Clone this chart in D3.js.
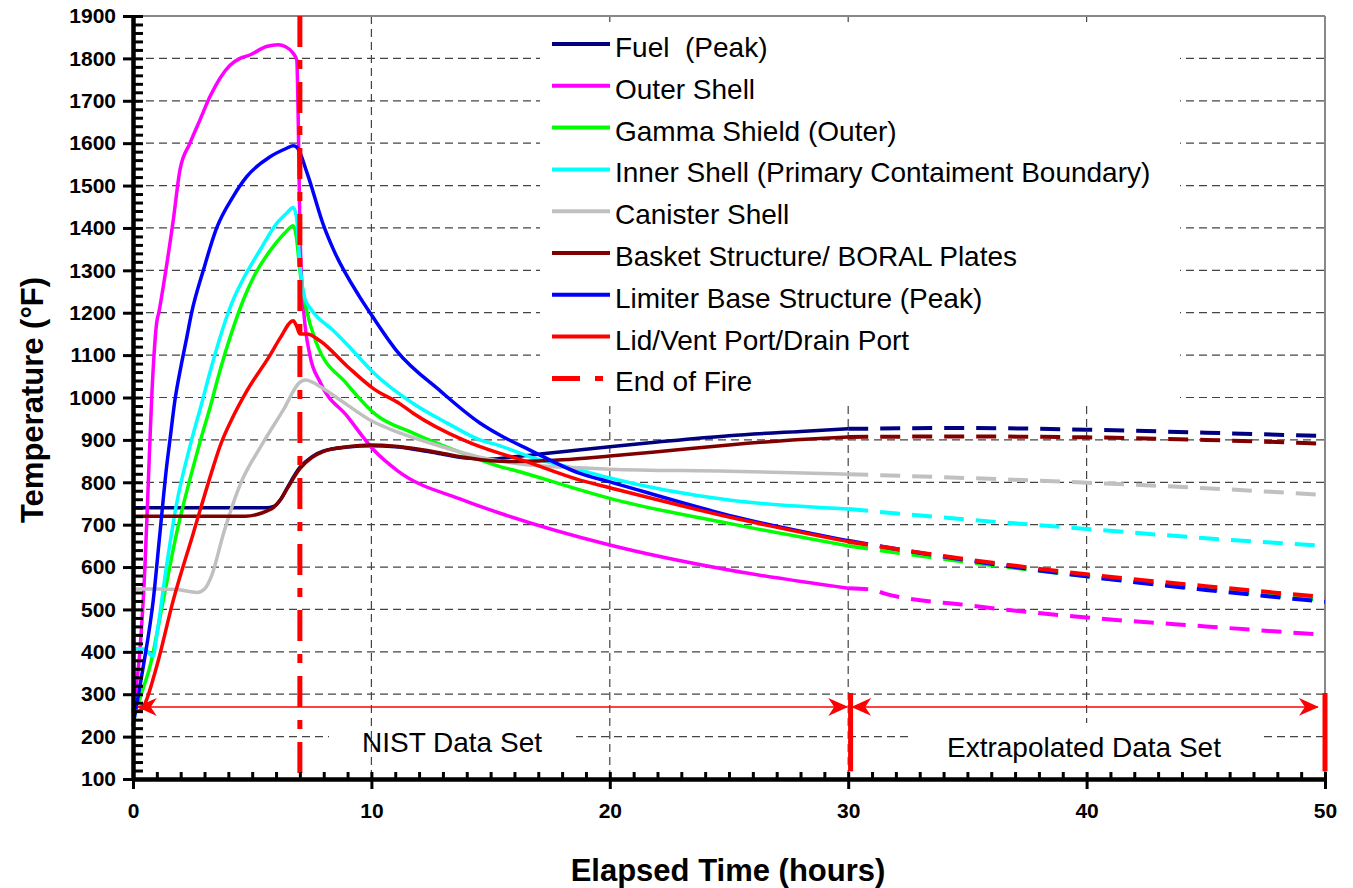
<!DOCTYPE html>
<html>
<head>
<meta charset="utf-8">
<script src="https://d3js.org/d3.v7.min.js"></script>
<style>
body { margin: 0; background: #fff; }
text { font-family: "Liberation Sans", Arial, sans-serif; }
</style>
</head>
<body>
<svg id="chart" width="1353" height="888"></svg>
<script>
// values: [hours, °F]
const fuel = [[0,740],[2,740],[4,740],[5,740],[5.6,740],[5.9,743],[6.2,760],[6.5,790],[7,835],[7.5,860],[8,874],[9,883],[10,886],[11,884],[12,876],[13,866],[14,857],[15,855],[16,860],[17,866],[18,872],[20,884],[22,895],[25,910],[28,920],[30,926],[35,928],[40,924],[45,917],[50,909]];
const outerShell = [[0,255],[0.1,300],[0.29,404],[0.5,600],[0.64,797],[0.78,994],[0.99,1175],[1.1,1205],[1.27,1262],[1.69,1419],[1.97,1537],[2.39,1600],[2.81,1655],[3.23,1710],[4.07,1784],[4.49,1800],[4.9,1808],[5.6,1828],[6.1,1832],[6.38,1828],[6.72,1812],[6.87,1796],[6.94,1624],[7.0,1400],[7.14,1220],[7.42,1100],[7.84,1037],[9,955],[10.1,876],[11.1,827],[13.85,758],[15.4,727],[20,652],[25,593],[30,550],[31,547],[31.5,538],[35,510],[40,481],[45,460],[50,440]];
const gammaShield = [[0,300],[0.1,290],[0.22,282],[0.4,310],[0.71,365],[1.27,522],[1.83,680],[2.53,837],[2.81,895],[3.3,990],[3.51,1035],[4.3,1180],[4.7,1240],[5.05,1283],[5.88,1356],[6.4,1390],[6.72,1405],[6.85,1380],[7.0,1300],[7.28,1206],[7.7,1128],[8.96,1033],[10.2,959],[11.75,916],[13.85,868],[15.4,837],[15.95,829],[18.75,782],[20,762],[25,703],[30,650],[35,612],[40,578],[45,548],[50,522]];
const innerShell = [[0,408],[0.5,406],[0.75,392],[0.85,390],[1.0,440],[1.4,600],[1.83,750],[2.39,885],[2.9,990],[3.23,1060],[3.93,1190],[4.14,1222],[4.49,1265],[5.33,1348],[6.03,1411],[6.45,1435],[6.72,1448],[6.86,1425],[7.0,1316],[7.2,1235],[7.5,1206],[8.4,1158],[9,1124],[10.1,1058],[11.75,986],[13.2,939],[14.55,900],[15.4,886],[16.65,860],[18.75,829],[20,810],[25,758],[30,737],[35,712],[40,690],[45,668],[50,650]];
const canister = [[0,548],[1,548],[1.8,547],[2.3,543],[2.7,540],[3.0,548],[3.3,580],[3.8,680],[4.5,795],[5.4,888],[6.3,970],[7.0,1036],[7.25,1041],[7.5,1037],[7.9,1024],[9,982],[10,945],[10.8,925],[12.5,892],[14.5,860],[16,845],[18.75,834],[20,831],[25,826],[30,819],[35,810],[40,799],[45,786],[50,770]];
const basket = [[0,720],[2,720],[4,720],[4.7,720],[5.2,724],[5.6,732],[5.9,741],[6.2,760],[6.5,788],[7,832],[7.5,858],[8,873],[9,884],[10,888],[11,885],[12,878],[13,868],[14,858],[15,851],[16,849],[17,850],[18,853],[20,862],[22,872],[25,888],[28,901],[30,907],[35,908],[40,906],[45,900],[50,891]];
const limiter = [[0,225],[0.2,290],[0.43,365],[0.85,522],[1.13,680],[1.41,837],[1.55,900],[1.76,994],[2.0,1070],[2.25,1140],[2.46,1200],[2.95,1300],[3.51,1400],[4.2,1474],[4.77,1521],[5.75,1568],[6.45,1588],[6.72,1594],[6.88,1590],[7.3,1530],[8.0,1405],[8.4,1350],[9.5,1238],[10,1195],[11.06,1110],[12.9,1015],[14.55,940],[15.4,911],[16.65,876],[18.75,821],[20,801],[25,722],[30,662],[35,616],[40,578],[45,546],[50,518]];
const lid = [[0,267],[0.08,262],[0.2,260],[0.43,270],[0.99,365],[1.69,522],[2.53,680],[3.37,837],[3.65,885],[4.2,955],[4.77,1015],[5.75,1100],[6.17,1140],[6.72,1181],[6.85,1170],[7.0,1150],[7.3,1150],[7.84,1134],[8.96,1075],[10.08,1021],[11.2,985],[11.75,963],[13.85,900],[15.4,868],[16,858],[18.75,805],[20,787],[25,718],[30,660],[35,618],[40,583],[45,555],[50,529]];

const seriesNames = ["Fuel  (Peak)", "Outer Shell", "Gamma Shield (Outer)", "Inner Shell (Primary Contaiment Boundary)", "Canister Shell", "Basket Structure/ BORAL Plates", "Limiter Base Structure (Peak)", "Lid/Vent Port/Drain Port"];
const seriesData = [fuel, outerShell, gammaShield, innerShell, canister, basket, limiter, lid];
const seriesColors = ["#000080", "#ff00ff", "#00ff00", "#00ffff", "#c0c0c0", "#800000", "#0000ff", "#ff0000"];

const endOfFire = 7.0;       // hours
const nistEnd = 30;          // measured data ends, extrapolation begins
const yTicks = d3.range(100, 1901, 100);
const xTicks = [0, 10, 20, 30, 40, 50];

const svg = d3.select("#chart");
const x = d3.scaleLinear().domain([0, 50]).range([133, 1325]);
const y = d3.scaleLinear().domain([100, 1900]).range([779, 16]);

// horizontal grid
svg.append("g").selectAll("line")
    .data(yTicks.filter(d => d > 100 && d < 1900))
    .join("line")
    .attr("x1", x(0)).attr("x2", x(50))
    .attr("y1", d => y(d)).attr("y2", d => y(d))
    .attr("stroke", "#444").attr("stroke-width", 1.2).attr("stroke-dasharray", "8,5");

// white box behind NIST label
svg.append("rect").attr("x", 329).attr("y", 724).attr("width", 247).attr("height", 46).attr("fill", "#fff");

// vertical grid
svg.append("g").selectAll("line")
    .data([10, 20, 30, 40])
    .join("line")
    .attr("x1", d => x(d)).attr("x2", d => x(d))
    .attr("y1", y(1900)).attr("y2", y(100))
    .attr("stroke", "#444").attr("stroke-width", 1.2).attr("stroke-dasharray", "8,5");

// white box behind extrapolated label
svg.append("rect").attr("x", 909).attr("y", 723).attr("width", 352).attr("height", 52).attr("fill", "#fff");

// top and right frame
svg.append("line").attr("x1", x(0)).attr("x2", x(50)).attr("y1", y(1900)).attr("y2", y(1900))
    .attr("stroke", "#888").attr("stroke-width", 2);
svg.append("line").attr("x1", x(50)).attr("x2", x(50)).attr("y1", y(1900)).attr("y2", y(100))
    .attr("stroke", "#888").attr("stroke-width", 2);

// legend background
svg.append("rect").attr("x", 540).attr("y", 22).attr("width", 640).attr("height", 380).attr("fill", "#fff");

// curves, solid up to 30 h, dashed after
const line = d3.line().x(d => x(d[0])).y(d => y(d[1])).curve(d3.curveMonotoneX);
const lines = svg.append("g").attr("fill", "none");
seriesData.forEach(function(data, i) {
    lines.append("path")
        .attr("d", line(data.filter(d => d[0] <= nistEnd)))
        .attr("stroke", seriesColors[i]).attr("stroke-width", 3.5)
        .attr("stroke-linejoin", "round");
    lines.append("path")
        .attr("d", line(data.filter(d => d[0] >= nistEnd)))
        .attr("stroke", seriesColors[i]).attr("stroke-width", 4)
        .attr("stroke-dasharray", "20,12");
});

// end of fire
svg.append("line")
    .attr("x1", x(endOfFire)).attr("x2", x(endOfFire))
    .attr("y1", y(1900)).attr("y2", y(100))
    .attr("stroke", "#ff0000").attr("stroke-width", 5)
    .attr("stroke-dasharray", "31,13,9,13");

// arrows
const defs = svg.append("defs");
defs.append("marker")
    .attr("id", "arr")
    .attr("viewBox", "0 -10 20 20")
    .attr("refX", 19).attr("refY", 0)
    .attr("markerWidth", 20).attr("markerHeight", 20)
    .attr("markerUnits", "userSpaceOnUse")
    .attr("orient", "auto-start-reverse")
    .append("path").attr("d", "M0,-9L20,0L0,9L6,0Z").attr("fill", "#ff0000");

const arrowT = 270;
svg.append("line")
    .attr("x1", x(0.2)).attr("x2", x(nistEnd) - 1)
    .attr("y1", y(arrowT)).attr("y2", y(arrowT))
    .attr("stroke", "#ff0000").attr("stroke-width", 1.6)
    .attr("marker-start", "url(#arr)").attr("marker-end", "url(#arr)");
svg.append("line")
    .attr("x1", x(nistEnd) + 4).attr("x2", x(49.7))
    .attr("y1", y(arrowT)).attr("y2", y(arrowT))
    .attr("stroke", "#ff0000").attr("stroke-width", 1.6)
    .attr("marker-start", "url(#arr)").attr("marker-end", "url(#arr)");

svg.append("g").selectAll("line")
    .data([30.1, 50])
    .join("line")
    .attr("x1", d => x(d)).attr("x2", d => x(d))
    .attr("y1", y(303)).attr("y2", y(118))
    .attr("stroke", "#ff0000").attr("stroke-width", 5);

svg.append("text").attr("x", 452).attr("y", 752).attr("text-anchor", "middle")
    .attr("font-size", 28).text("NIST Data Set");
svg.append("text").attr("x", 1084).attr("y", 757).attr("text-anchor", "middle")
    .attr("font-size", 28).text("Extrapolated Data Set");

// axes
const yAxis = svg.append("g").attr("transform", `translate(${x(0)},0)`)
    .call(d3.axisLeft(y).tickValues(yTicks).tickFormat(d3.format("d"))
        .tickSize(10).tickSizeOuter(0).tickPadding(7));
svg.append("g").attr("transform", `translate(${x(0)},0)`)
    .call(d3.axisRight(y).tickValues(d3.range(100, 1901, 20)).tickSize(10).tickSizeOuter(0).tickFormat(""));
const xAxis = svg.append("g").attr("transform", `translate(0,${y(100)})`)
    .call(d3.axisBottom(x).tickValues(xTicks).tickFormat(d3.format("d")).tickSize(10).tickSizeOuter(0));
svg.append("g").attr("transform", `translate(0,${y(100)})`)
    .call(d3.axisTop(x).tickValues(d3.range(0, 51, 1)).tickSize(7).tickSizeOuter(0).tickFormat(""));

svg.selectAll(".domain").attr("stroke", "#000").attr("stroke-width", 4);
svg.selectAll(".tick line").attr("stroke", "#000").attr("stroke-width", 3);
yAxis.selectAll("text").style("font-size", "21px").style("font-weight", "bold")
    .style("font-family", "Liberation Sans, Arial, sans-serif").attr("fill", "#000");
xAxis.selectAll("text").style("font-size", "21px").style("font-weight", "bold")
    .style("font-family", "Liberation Sans, Arial, sans-serif").attr("fill", "#000")
    .attr("y", 39).attr("dy", 0);

svg.append("text").attr("x", 728).attr("y", 881).attr("text-anchor", "middle")
    .attr("font-size", 31).attr("font-weight", "bold").text("Elapsed Time (hours)");
svg.append("text").attr("transform", "translate(43,400) rotate(-90)").attr("text-anchor", "middle")
    .attr("font-size", 31).attr("font-weight", "bold").text("Temperature (°F)");

// legend
const legend = svg.append("g");
const rowY = i => 44 + i * 41.8;
seriesNames.forEach(function(name, i) {
    legend.append("line").attr("x1", 552).attr("x2", 610).attr("y1", rowY(i)).attr("y2", rowY(i))
        .attr("stroke", seriesColors[i]).attr("stroke-width", 4);
    legend.append("text").attr("x", 615).attr("y", rowY(i) + 13).attr("font-size", 28)
        .style("white-space", "pre").text(name);
});
legend.append("line").attr("x1", 552).attr("x2", 610).attr("y1", rowY(8)).attr("y2", rowY(8))
    .attr("stroke", "#ff0000").attr("stroke-width", 5).attr("stroke-dasharray", "28,15,8,15");
legend.append("text").attr("x", 615).attr("y", rowY(8) + 13).attr("font-size", 28).text("End of Fire");
</script>
</body>
</html>
